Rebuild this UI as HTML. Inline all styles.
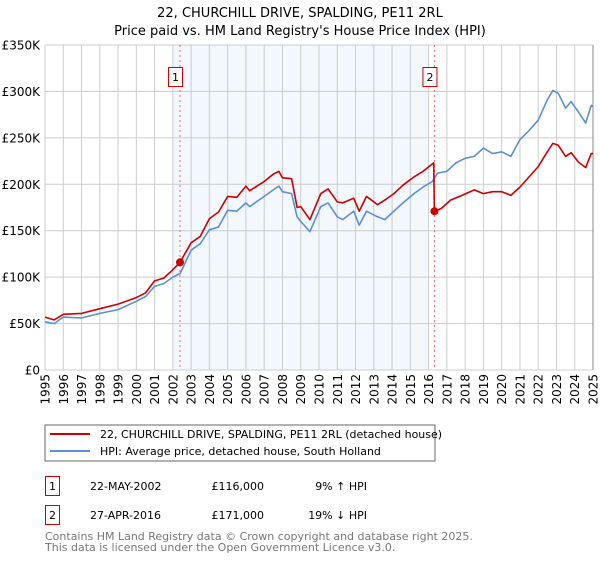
<!DOCTYPE html>
<html><head><meta charset="utf-8"><style>
body{margin:0;background:#fff;font-family:"DejaVu Sans","Liberation Sans",sans-serif;}
svg text{font-family:"DejaVu Sans","Liberation Sans",sans-serif;}
</style></head><body>
<svg id="c" width="600" height="560" xmlns="http://www.w3.org/2000/svg">
<text x="300" y="17" text-anchor="middle" font-size="13">22, CHURCHILL DRIVE, SPALDING, PE11 2RL</text>
<text x="300" y="35" text-anchor="middle" font-size="13">Price paid vs. HM Land Registry's House Price Index (HPI)</text>
<g id="plot"></g>
<rect x="45" y="425" width="390" height="36" fill="#fff" stroke="#666"/>
<line x1="50" y1="434" x2="90" y2="434" stroke="#cc0000" stroke-width="2"/>
<text x="100" y="438" font-size="11">22, CHURCHILL DRIVE, SPALDING, PE11 2RL (detached house)</text>
<line x1="50" y1="451" x2="90" y2="451" stroke="#5b8fd6" stroke-width="2"/>
<text x="100" y="455" font-size="11">HPI: Average price, detached house, South Holland</text>
<g>
<rect x="45.5" y="476.5" width="14" height="19" fill="none" stroke="#cc0000"/>
<text x="52.5" y="490" text-anchor="middle" font-size="11">1</text>
<text x="90" y="490" font-size="11">22-MAY-2002</text>
<text x="264" y="490" text-anchor="end" font-size="11">£116,000</text>
<text x="367" y="490" text-anchor="end" font-size="11">9% ↑ HPI</text>
</g>
<g>
<rect x="45.5" y="505.5" width="14" height="19" fill="none" stroke="#cc0000"/>
<text x="52.5" y="519" text-anchor="middle" font-size="11">2</text>
<text x="90" y="519" font-size="11">27-APR-2016</text>
<text x="264" y="519" text-anchor="end" font-size="11">£171,000</text>
<text x="367" y="519" text-anchor="end" font-size="11">19% ↓ HPI</text>
</g>
<text x="45" y="540" font-size="11" fill="#777">Contains HM Land Registry data © Crown copyright and database right 2025.</text>
<text x="45" y="551" font-size="11" fill="#777">This data is licensed under the Open Government Licence v3.0.</text>
</svg>
<script>
const hpiYears=[1995,1995.5,1996,1997,1998,1999,2000,2000.5,2001,2001.5,2002,2002.4,2003,2003.5,2004,2004.5,2005,2005.5,2006,2006.2,2007,2007.5,2007.8,2008,2008.5,2008.8,2009,2009.5,2010.1,2010.5,2011,2011.3,2011.9,2012.2,2012.6,2013.2,2013.6,2014.1,2014.6,2015.2,2015.7,2016.2,2016.5,2017,2017.5,2018,2018.5,2019,2019.5,2020,2020.5,2021,2021.5,2022,2022.5,2022.8,2023.1,2023.5,2023.8,2024.2,2024.6,2024.9,2025];
const hpiValues=[52,50,57,56,61,65,74,79,90,93,100,104,129,136,151,154,172,171,180,176,187,194,198,192,190,165,160,149,176,180,165,162,171,156,171,165,162,171,180,190,197,203,212,214,223,228,230,239,233,235,230,248,258,269,291,301,298,282,289,278,266,285,284];
const priceYears=[1995,1995.5,1996,1997,1998,1999,2000,2000.5,2001,2001.5,2002,2002.39,2003,2003.5,2004,2004.5,2005,2005.5,2006,2006.2,2007,2007.5,2007.8,2008,2008.5,2008.8,2009,2009.5,2010.1,2010.5,2011,2011.3,2011.9,2012.2,2012.6,2013.2,2013.6,2014.1,2014.6,2015.2,2015.7,2016.28,2016.32,2016.7,2017.2,2017.7,2018.5,2019,2019.5,2020,2020.5,2021,2021.5,2022,2022.5,2022.8,2023.1,2023.5,2023.8,2024.2,2024.6,2024.9,2025];
const priceValues=[57,54,60,61,66,71,78,83,96,99,108,116,137,144,163,170,187,186,198,193,203,211,214,207,206,175,176,162,190,195,181,180,185,171,187,178,183,190,199,208,214,223,171,174,183,187,194,190,192,192,188,197,208,219,235,244,242,230,234,224,218,233,233];
const saleYears=[2002.39,2016.32];
const saleValues=[116,171];
const saleLabels=["1","2"];
const yTicks=[0,50,100,150,200,250,300,350];
const yTickLabels=["£0","£50K","£100K","£150K","£200K","£250K","£300K","£350K"];
const xTicks=[1995,1996,1997,1998,1999,2000,2001,2002,2003,2004,2005,2006,2007,2008,2009,2010,2011,2012,2013,2014,2015,2016,2017,2018,2019,2020,2021,2022,2023,2024,2025];

const L=45,R=593,T=45,B=370;
const X=y=>L+(y-1995)/30*(R-L);
const Y=v=>B-v/350*(B-T);
const g=document.getElementById('plot');
const NS="http://www.w3.org/2000/svg";
function mk(tag,attrs,parent){const e=document.createElementNS(NS,tag);for(const k in attrs)e.setAttribute(k,attrs[k]);(parent||g).appendChild(e);return e;}

let sh=mk('rect',{x:X(2002),y:T,width:X(2016)-X(2002),height:B-T,fill:'#eef3fd',opacity:0.7});


xTicks.forEach(t=>{
 let l=mk('line',{x1:X(t),x2:X(t),y1:T,y2:B,stroke:'#cccccc'});
 
 
 let tx=mk('text',{x:0,y:0,'font-size':12,'text-anchor':'end',transform:`translate(${X(t)+4.5},374) rotate(-90)`});
 tx.textContent=t;
 
 
});
yTicks.forEach((t,i)=>{
 let l=mk('line',{x1:L,x2:R,y1:Y(t),y2:Y(t),stroke:'#cccccc'});
 
 
 let tx=mk('text',{x:40,y:Y(t)+4.5,'font-size':12,'text-anchor':'end'});
 tx.textContent=yTickLabels[i];
 
 
});
let rb=mk('line',{x1:R,x2:R,y1:T,y2:B,stroke:'#888'});


saleYears.forEach((s,i)=>{
 let l=mk('line',{x1:X(s),x2:X(s),y1:T,y2:B,stroke:'#ee6666','stroke-dasharray':'2,3'});
 
 
 let r=mk('rect',{x:X(s)-11.5,y:67.5,width:14,height:19,fill:'#fff',stroke:'#cc0000'});
 
 
 let t=mk('text',{x:X(s)-4.5,y:81,'font-size':11,'text-anchor':'middle'});
 t.textContent=saleLabels[i];
 
 
});
const pts=(xs,vs)=>xs.map((x,i)=>X(x).toFixed(1)+','+Y(vs[i]).toFixed(1)).join(' ');
let hl=mk('polyline',{points:pts(hpiYears,hpiValues),fill:'none',stroke:'#5b8fd6','stroke-width':1.6,'stroke-linejoin':'round'});


let pl=mk('polyline',{points:pts(priceYears,priceValues),fill:'none',stroke:'#cc0000','stroke-width':1.6,'stroke-linejoin':'round'});


saleYears.forEach((s,i)=>{
 let c=mk('circle',{cx:X(s),cy:Y(saleValues[i]),r:4,fill:'#cc0000'});
 
 
});
</script>
</body></html>
